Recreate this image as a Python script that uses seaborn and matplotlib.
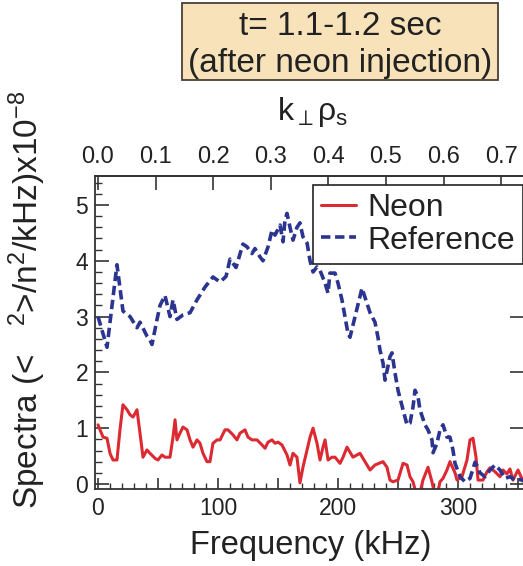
import matplotlib
matplotlib.use("Agg")
import matplotlib.pyplot as plt
from matplotlib.patches import Rectangle
from matplotlib.ticker import MultipleLocator, FuncFormatter
import seaborn as sns
import pandas as pd

# Fluctuation spectra, reference discharge (kHz, x1e-8)
ref_freq = [0.0, 7.5, 15.8, 20.8, 26.7, 32.5, 35.0, 40.8, 43.3, 45.0, 49.2, 51.7,
            55.8, 60.0, 62.5, 65.8, 70.8, 76.7, 82.5, 89.2, 95.8, 101.7, 106.7,
            110.0, 115.0, 120.8, 124.2, 128.3, 130.8, 135.0, 137.5, 141.7, 145.0,
            147.5, 151.7, 154.2, 155.8, 157.5, 160.0, 162.5, 165.8, 168.3, 170.8,
            174.2, 176.7, 179.2, 182.5, 185.0, 189.2, 191.7, 193.3, 197.5, 200.0,
            203.3, 205.8, 208.3, 210.0, 214.2, 220.0, 226.7, 230.8, 233.3, 235.0,
            237.5, 239.2, 243.3, 245.0, 247.5, 250.0, 254.2, 257.5, 260.0, 262.5,
            264.2, 266.7, 268.3, 272.5, 275.0, 278.3, 279.2, 282.5, 285.0, 287.5,
            290.8, 293.3, 295.8, 297.5, 301.7, 305.8, 310.0, 314.2, 316.7, 318.3,
            322.5, 326.7, 330.8, 335.0, 339.2, 343.3, 347.5, 351.7, 355.8]
ref_spec = [3.0, 2.45, 3.93, 3.1, 3.0, 2.8, 2.9, 2.65, 2.58, 2.5, 2.95, 3.2,
            3.38, 3.0, 3.3, 2.95, 3.03, 3.07, 3.3, 3.53, 3.71, 3.62, 3.72,
            4.03, 3.88, 4.3, 4.25, 4.13, 4.22, 4.07, 4.0, 4.25, 4.55,
            4.46, 4.64, 4.34, 4.73, 4.85, 4.6, 4.37, 4.6, 4.68, 4.43,
            4.32, 4.0, 3.8, 3.89, 3.83, 3.6, 3.42, 3.78, 3.78, 3.6,
            3.3, 3.0, 2.7, 2.63, 3.0, 3.51, 3.07, 2.9, 2.63, 2.4,
            2.17, 1.86, 2.28, 2.35, 1.99, 1.68, 1.33, 1.06, 1.09, 1.38,
            1.68, 1.56, 1.33, 1.06, 0.97, 0.79, 0.56, 0.73, 0.97, 1.06,
            0.84, 0.84, 0.61, 0.37, 0.13, 0.04, 0.1, 0.39, 0.3, 0.2,
            0.13, 0.25, 0.34, 0.25, 0.1, 0.13, 0.07, 0.08, 0.05]

# Fluctuation spectra after neon injection
neon_freq = [0.0, 1.7, 4.2, 7.5, 10.0, 12.5, 15.8, 18.3, 20.8, 24.2, 26.7, 29.2,
             32.5, 35.0, 37.5, 40.8, 43.3, 47.5, 50.0, 53.3, 55.8, 60.0, 62.5,
             64.2, 65.8, 68.3, 70.8, 74.2, 76.7, 79.2, 82.5, 85.0, 87.5, 90.8,
             93.3, 95.8, 99.2, 101.7, 105.8, 108.3, 112.5, 115.8, 118.3, 122.5,
             125.0, 128.3, 132.5, 136.7, 139.2, 141.7, 145.0, 147.5, 150.0, 153.3,
             157.5, 160.0, 162.5, 165.8, 168.3, 170.8, 174.2, 176.7, 179.2, 182.5,
             185.0, 187.5, 189.2, 191.7, 195.0, 197.5, 201.7, 204.2, 207.5, 210.0,
             212.5, 215.8, 218.3, 222.5, 226.7, 230.8, 237.5, 240.8, 243.3, 245.8,
             250.0, 254.2, 257.5, 260.0, 262.5, 266.7, 270.8, 275.0, 278.3, 281.7,
             285.0, 287.5, 290.8, 293.3, 297.5, 299.2, 303.3, 307.5, 310.0, 312.5,
             315.0, 316.7, 320.8, 324.2, 326.7, 330.8, 335.0, 337.5, 340.8, 343.3,
             345.8, 350.0, 354.2]
neon_spec = [1.06, 0.97, 0.84, 0.82, 0.55, 0.43, 0.43, 0.97, 1.42, 1.33, 1.24, 1.2,
             1.33, 0.91, 0.48, 0.61, 0.55, 0.46, 0.43, 0.52, 0.48, 0.48, 0.84,
             1.15, 0.79, 0.91, 1.02, 0.97, 0.79, 0.66, 0.79, 0.73, 0.55, 0.4,
             0.4, 0.73, 0.79, 0.79, 0.97, 0.97, 0.88, 0.79, 0.91, 0.97,
             0.84, 0.79, 0.79, 0.7, 0.64, 0.75, 0.79, 0.73, 0.75, 0.7,
             0.52, 0.34, 0.55, 0.48, 0.02, 0.3, 0.61, 0.84, 1.0, 0.73,
             0.43, 0.66, 0.79, 0.43, 0.48, 0.48, 0.37, 0.48, 0.66, 0.57,
             0.48, 0.52, 0.55, 0.4, 0.25, 0.34, 0.4, 0.3, 0.07, 0.04,
             0.07, 0.37, 0.34, 0.13, 0.04, -0.3, 0.07, 0.3, 0.04, -0.3,
             0.04, 0.1, 0.25, 0.4, 0.2, 0.07, 0.13, 0.43, 0.79, 0.82,
             0.48, 0.07, 0.07, 0.22, 0.29, 0.22, 0.13, 0.25, 0.18, 0.27,
             0.07, 0.25, 0.05]

x_ticks = [0, 100, 200, 300]
k_ticks = [0.0, 0.1, 0.2, 0.3, 0.4, 0.5, 0.6, 0.7]
KHZ_PER_K = 480.0  # frequency corresponding to k_perp*rho_s = 1

sns.set_style("ticks")
plt.rcParams["font.family"] = ["Liberation Sans", "DejaVu Sans"]
plt.rcParams["mathtext.fontset"] = "custom"
plt.rcParams["mathtext.rm"] = "Liberation Sans"
plt.rcParams["mathtext.it"] = "Liberation Sans"
plt.rcParams["mathtext.default"] = "regular"

INK = "#333333"
TXT = "#222222"
RED = "#dc2a33"
BLUE = "#2b3590"

W, H = 523, 566
fig = plt.figure(figsize=(W / 100, H / 100), dpi=100)
ax = fig.add_axes([95 / W, 1 - 489 / H, (524 - 95) / W, (489 - 176) / H])

neon_df = pd.DataFrame({"freq": neon_freq, "spec": neon_spec})
ref_df = pd.DataFrame({"freq": ref_freq, "spec": ref_spec})

sns.lineplot(data=neon_df, x="freq", y="spec", ax=ax, color=RED, lw=2.2,
             estimator=None, sort=False, label="Neon")
sns.lineplot(data=ref_df, x="freq", y="spec", ax=ax, color=BLUE, lw=2.6,
             estimator=None, sort=False, label="Reference",
             linestyle=(0, (2.6, 1.3)))

ax.set_xlim(-2.5, 355)
ax.set_ylim(-0.09, 5.52)

for s in ax.spines.values():
    s.set_color(INK)
    s.set_linewidth(1.3)

ax.set_xticks(x_ticks)
ax.xaxis.set_major_locator(MultipleLocator(50))
ax.xaxis.set_minor_locator(MultipleLocator(10))
ax.xaxis.set_major_formatter(FuncFormatter(
    lambda v, p: f"{int(round(v))}" if int(round(v)) in x_ticks else ""))
ax.yaxis.set_major_locator(MultipleLocator(1))
ax.yaxis.set_minor_locator(MultipleLocator(0.2))

ax.tick_params(axis="both", which="both", direction="in", colors=INK,
               labelcolor=TXT, labelsize=16.5)
ax.tick_params(axis="x", which="major", length=8, width=1.2, pad=6, top=False)
ax.tick_params(axis="x", which="minor", length=4.5, width=1.0, top=False)
ax.tick_params(axis="y", which="major", length=10, width=1.2, pad=5, right=True)
ax.tick_params(axis="y", which="minor", length=5, width=1.0, right=False)

# upper axis: normalized wavenumber
sec = ax.secondary_xaxis("top", functions=(lambda f: f / KHZ_PER_K,
                                           lambda k: k * KHZ_PER_K))
sec.set_xticks(k_ticks)
sec.xaxis.set_major_formatter(FuncFormatter(lambda v, p: f"{v:.1f}"))
sec.tick_params(direction="in", length=10, width=1.2, colors=INK,
                labelcolor=TXT, labelsize=17, pad=6)
sec.spines["top"].set_color(INK)
sec.spines["top"].set_linewidth(1.3)
fig.text(313 / W, 1 - 120 / H, r"k$_{\perp}$ρ$_{s}$", ha="center",
         va="baseline", fontsize=23, color=TXT)

ax.set_xlabel("Frequency (kHz)", fontsize=23.5, color=TXT)
ax.xaxis.set_label_coords(0.503, -0.13)
ax.set_ylabel(r"Spectra (<   ${}^{2}$>/n${}^{2}$/kHz)x10${}^{-8}$",
              fontsize=24, color=TXT)
ax.yaxis.set_label_coords(-0.11, 0.605)

leg = ax.legend(loc="upper left", bbox_to_anchor=((313 - 95) / 429, (489 - 185) / 313),
                borderaxespad=0, fontsize=23, frameon=True, fancybox=False,
                edgecolor=TXT, framealpha=1, borderpad=0.25,
                handlelength=1.1, handletextpad=0.35, labelspacing=0.08)
leg.get_frame().set_linewidth(1.2)
for t in leg.get_texts():
    t.set_color(TXT)

# time-window annotation box
fig.add_artist(Rectangle((182 / W, 1 - 80 / H), (498 - 182) / W, 77 / H,
                         transform=fig.transFigure, facecolor="#f7e2ba",
                         edgecolor="#4a4034", lw=1.3))
fig.text(340 / W, 1 - 35 / H, "t= 1.1-1.2 sec", ha="center", va="baseline",
         fontsize=24, color=TXT)
fig.text(340 / W, 1 - 72 / H, "(after neon injection)", ha="center",
         va="baseline", fontsize=24, color=TXT)

fig.savefig("out.png", dpi=100)
